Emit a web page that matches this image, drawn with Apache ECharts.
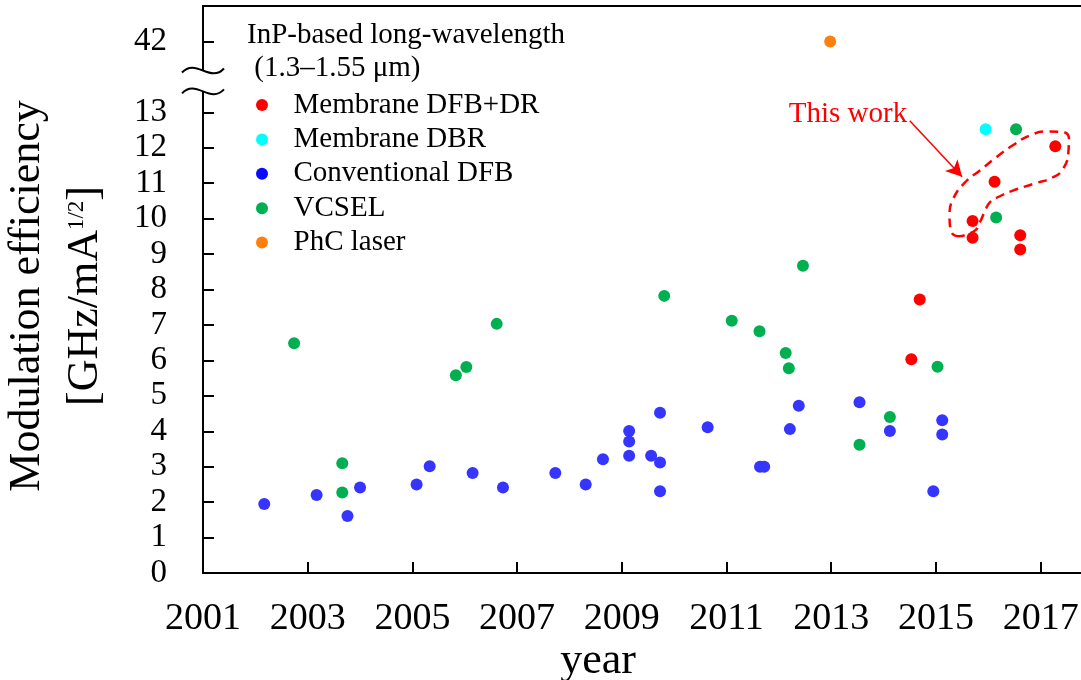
<!DOCTYPE html>
<html>
<head>
<meta charset="utf-8">
<script src="https://cdn.jsdelivr.net/npm/echarts@6/dist/echarts.min.js"></script>
<style>
  html, body { margin: 0; padding: 0; background: #fff; overflow: hidden; }
  /* the plot frame runs past the right edge of the window */
  #chart { width: 1110px; height: 680px; }
</style>
</head>
<body>
<div id="chart"></div>
<script>
// Modulation efficiency [GHz/mA^1/2] by publication year
const membraneDfbDr = [
  [2014.53, 6.03], [2014.69, 7.72], [2015.70, 9.46], [2015.70, 9.93],
  [2016.12, 11.04], [2017.28, 12.04], [2016.61, 9.53], [2016.61, 9.13]
];
const membraneDbr = [[2015.95, 12.52]];
const conventionalDfb = [
  [2002.17, 1.95], [2003.17, 2.20], [2003.76, 1.61], [2004.00, 2.41],
  [2005.08, 2.50], [2005.33, 3.01], [2006.15, 2.82], [2006.73, 2.41],
  [2007.73, 2.82], [2008.31, 2.50], [2008.64, 3.21], [2009.14, 4.01],
  [2009.14, 3.71], [2009.14, 3.31], [2009.56, 3.31], [2009.73, 3.12],
  [2009.73, 4.52], [2009.73, 2.31], [2010.64, 4.11], [2011.64, 3.00],
  [2011.72, 3.00], [2012.21, 4.06], [2012.38, 4.72], [2013.54, 4.82],
  [2014.12, 4.01], [2014.95, 2.31], [2015.12, 4.31], [2015.12, 3.91]
];
const vcsel = [
  [2002.74, 6.48], [2003.66, 3.10], [2003.66, 2.27], [2005.83, 5.58],
  [2006.03, 5.81], [2006.61, 7.03], [2009.81, 7.82], [2011.10, 7.12],
  [2011.63, 6.82], [2012.13, 6.21], [2012.19, 5.78], [2012.46, 8.67],
  [2013.54, 3.62], [2014.12, 4.40], [2015.03, 5.82], [2016.15, 10.03],
  [2016.53, 12.52]
];
const phcLaser = [[2012.98, 42]];

const seriesNames = ['Membrane DFB+DR', 'Membrane DBR', 'Conventional DFB', 'VCSEL', 'PhC laser'];
const xTickYears = [2001, 2003, 2005, 2007, 2009, 2011, 2013, 2015, 2017];
const yTickValues = [0, 1, 2, 3, 4, 5, 6, 7, 8, 9, 10, 11, 12, 13, 42];

// dashed outline around the points of this work (year, efficiency)
const workOutline = [
  [2015.46, 9.50], [2015.30, 9.61], [2015.26, 10.08], [2015.33, 10.56],
  [2015.56, 11.03], [2015.84, 11.36], [2016.16, 11.74], [2016.47, 12.07],
  [2016.80, 12.35], [2017.12, 12.46], [2017.40, 12.45], [2017.54, 12.26],
  [2017.53, 11.88], [2017.43, 11.41], [2017.24, 11.17], [2016.86, 10.98],
  [2016.47, 10.79], [2016.19, 10.61], [2016.03, 10.46], [2015.94, 10.23],
  [2015.84, 9.90], [2015.74, 9.66], [2015.46, 9.50]
];
const arrowFrom = [2014.50, 12.76];
const arrowTo = [2015.50, 11.18];
const noteAnchor = [2014.45, 12.94];

// broken y axis: 0–13 drawn linearly, the upper segment is shifted down so 42 sits at 15
const BREAK_SHIFT = 27;
const toAxis = v => (v > 13.5 ? v - BREAK_SHIFT : v);
const fromAxis = d => (d > 13.5 ? d + BREAK_SHIFT : d);
const mapPts = arr => arr.map(([x, v]) => [x, toAxis(v)]);

const FONT = '"Liberation Serif", "Times New Roman", serif';
const colors = ['#ff0000', '#00ffff', '#3535ff', '#00b050', '#ff7f0e'];
const seriesData = [membraneDfbDr, membraneDbr, conventionalDfb, vcsel, phcLaser];

const chart = echarts.init(document.getElementById('chart'), null, { renderer: 'canvas' });

const scatterSeries = seriesNames.map((name, i) => ({
  name,
  type: 'scatter',
  data: mapPts(seriesData[i]),
  symbol: 'circle',
  symbolSize: 12,
  itemStyle: { color: colors[i], opacity: 1 },
  z: 5
}));

// arrow from the note to the outlined group
scatterSeries[0].markLine = {
  silent: true,
  symbol: ['none', 'arrow'],
  symbolSize: [13, 16],
  label: { show: false },
  lineStyle: { color: '#ff0000', width: 1.5, type: 'solid' },
  data: [[{ coord: arrowFrom }, { coord: arrowTo }]]
};

const option = {
  animation: false,
  backgroundColor: '#fff',
  textStyle: { fontFamily: FONT },
  title: {
    text: 'InP-based long-wavelength\n (1.3–1.55 μm)',
    left: 247,
    top: 19,
    padding: 0,
    textStyle: { fontFamily: FONT, fontSize: 29, fontWeight: 'normal', color: '#000', lineHeight: 33 }
  },
  legend: {
    data: seriesNames.map((n, i) => ({
      name: n,
      icon: 'circle',
      itemStyle: { color: i === 2 ? '#0a0aff' : colors[i] }
    })),
    orient: 'vertical',
    left: 256,
    top: 90,
    padding: 0,
    itemWidth: 53,
    itemHeight: 12,
    itemGap: 4.4,
    selectedMode: false,
    textStyle: { fontFamily: FONT, fontSize: 29, color: '#000', lineHeight: 30 }
  },
  grid: {
    left: 203,
    top: 6,
    width: 890,
    height: 567,
    show: true,
    borderColor: '#000',
    borderWidth: 2,
    containLabel: false
  },
  xAxis: {
    type: 'value',
    min: 2001,
    max: 2018,
    interval: 2,
    axisLine: { show: true, onZero: false, lineStyle: { color: '#000', width: 2 } },
    axisTick: { show: true, inside: true, length: 11, customValues: xTickYears, lineStyle: { color: '#000', width: 2 } },
    axisLabel: {
      customValues: xTickYears,
      margin: 27,
      fontFamily: FONT,
      fontSize: 38,
      color: '#000',
      formatter: v => String(v)
    },
    splitLine: { show: false }
  },
  yAxis: {
    type: 'value',
    min: 0,
    max: 16,
    interval: 1,
    axisLine: { show: true, onZero: false, lineStyle: { color: '#000', width: 2 } },
    axisTick: { show: true, inside: true, length: 11, customValues: yTickValues.map(toAxis), lineStyle: { color: '#000', width: 2 } },
    axisLabel: {
      customValues: yTickValues.map(toAxis),
      margin: 36,
      fontFamily: FONT,
      fontSize: 33,
      color: '#000',
      formatter: d => String(Math.round(fromAxis(d)))
    },
    splitLine: { show: false }
  },
  series: scatterSeries.concat([{
    name: 'This work outline',
    type: 'line',
    data: workOutline.map(([x, v]) => [x, toAxis(v)]),
    smooth: 0.5,
    showSymbol: false,
    silent: true,
    lineStyle: { color: '#ff0000', width: 2.5, type: [9, 6] },
    z: 3
  }])
};

chart.setOption(option);

// axis titles, break marks and the note are placed from the grid's own scale
const px = p => chart.convertToPixel({ gridIndex: 0 }, p);
const axisX = px([2001, 0])[0];
const yBreakLow = px([2001, 13.59])[1];
const yBreakHigh = px([2001, 14.18])[1];
const note = px(noteAnchor);
const tilde = (y) => ({
  type: 'bezierCurve',
  x: axisX,
  y: y,
  shape: { x1: -21, y1: 2, cpx1: -7, cpy1: -13, cpx2: 7, cpy2: 13, x2: 21, y2: -2 },
  style: { stroke: '#000', lineWidth: 2, fill: null },
  z: 101
});

chart.setOption({
  graphic: [
    {
      type: 'rect',
      shape: { x: axisX - 5, y: yBreakHigh, width: 10, height: yBreakLow - yBreakHigh },
      style: { fill: '#fff' },
      z: 100
    },
    tilde(yBreakHigh),
    tilde(yBreakLow),
    {
      type: 'text',
      x: note[0],
      y: note[1],
      style: {
        text: 'This work',
        fill: '#ff0000',
        font: '29px ' + FONT,
        align: 'right',
        verticalAlign: 'middle'
      },
      z: 102
    },
    {
      type: 'text',
      x: 56,
      y: 296,
      rotation: Math.PI / 2,
      style: {
        text: 'Modulation efficiency\n{b|[GHz/mA}{s|1/2}{b|]}',
        fill: '#000',
        font: '44px ' + FONT,
        align: 'center',
        verticalAlign: 'middle',
        lineHeight: 58,
        rich: {
          b: { fontSize: 44, fontFamily: FONT, lineHeight: 58, fill: '#000' },
          s: { fontSize: 23, fontFamily: FONT, verticalAlign: 'top', lineHeight: 58, padding: [9, 0, 0, 0], fill: '#000' }
        }
      },
      z: 102
    },
    {
      type: 'text',
      x: 598,
      y: 661,
      style: {
        text: 'year',
        fill: '#000',
        font: '44px ' + FONT,
        align: 'center',
        verticalAlign: 'middle'
      },
      z: 102
    }
  ]
});
</script>
</body>
</html>
